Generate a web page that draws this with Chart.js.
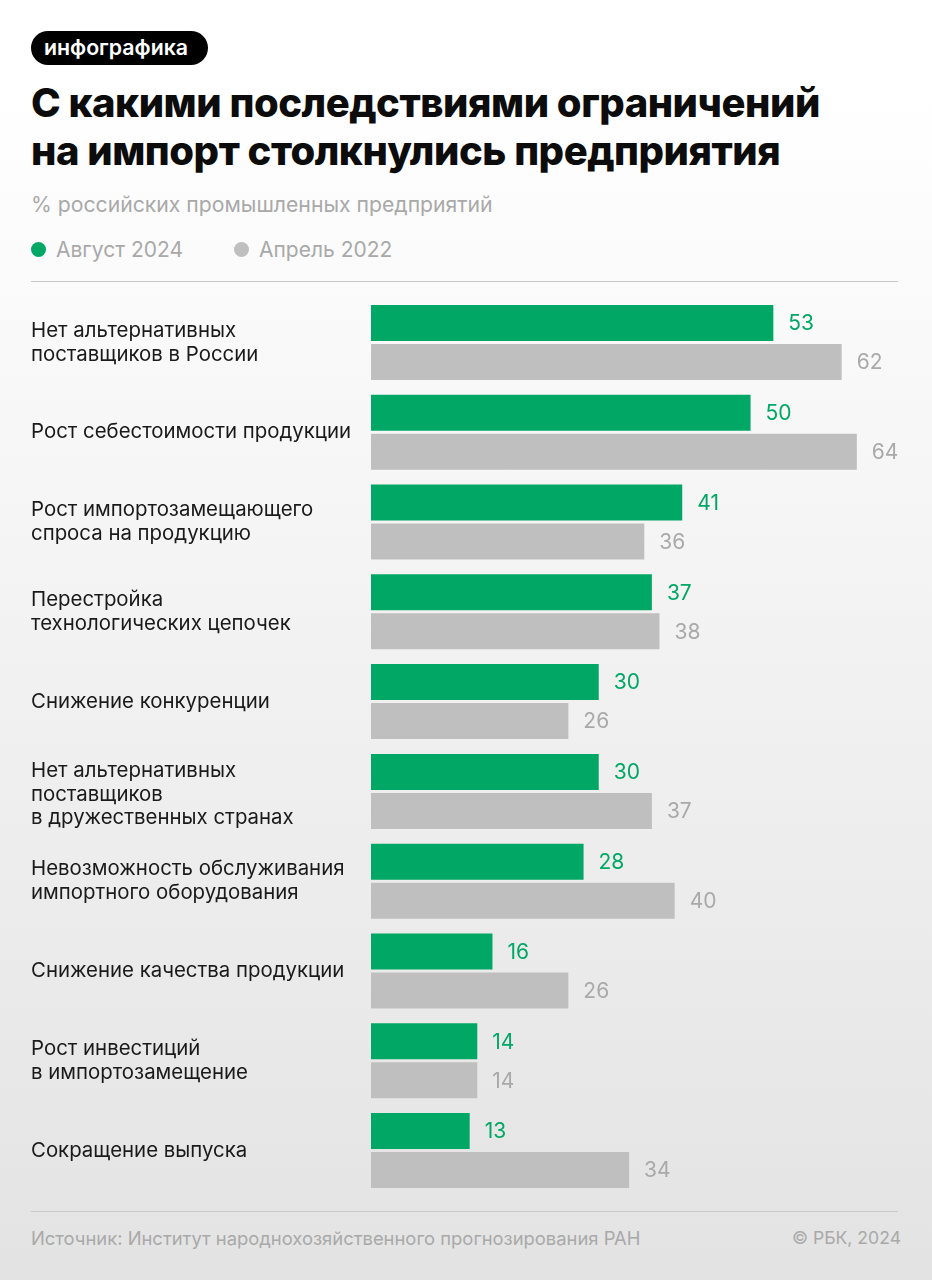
<!DOCTYPE html>
<html lang="ru">
<head>
<meta charset="utf-8">
<title>Последствия ограничений на импорт</title>
<script src="https://cdn.jsdelivr.net/npm/chart.js@4"></script>
<style>
  html, body { margin: 0; padding: 0; }
  body { width: 932px; height: 1280px; position: relative; overflow: hidden; font-family: Inter, "Noto Sans", sans-serif;
    background: linear-gradient(to bottom, #ffffff 0, #ffffff 90px, #e3e3e3 1280px); }
  .abs { position: absolute; white-space: nowrap; }
  #tag { left: 31px; top: 31px; height: 34px; line-height: 33px; padding: 0 20px 0 13px; background: #000; color: #fff; border-radius: 17px; font-size: 21.3px; font-weight: 600; }
  #title { left: 31px; top: 79px; font-size: 40px; line-height: 48px; font-weight: 800; color: #0c0c0c; letter-spacing: -0.48px; }
  #sub { left: 31px; top: 191px; font-size: 21.2px; line-height: 26px; color: #a9a9a9; }
  .leg { top: 237px; font-size: 21px; line-height: 26px; color: #a9a9a9; }
  .dot { position: absolute; top: 242px; width: 15px; height: 15px; border-radius: 50%; }
  .rule { position: absolute; left: 31px; width: 867px; height: 1px; background: #c8c8c8; }
  .foot { top: 1226px; font-size: 18.4px; line-height: 24px; color: #a9a9a9; }
  #wrap { position: absolute; left: 0; top: 290px; width: 932px; height: 914px; }
  canvas { display: block; }
</style>
</head>
<body>
<div class="abs" id="tag">инфографика</div>
<div class="abs" id="title">С какими последствиями ограничений<br>на импорт столкнулись предприятия</div>
<div class="abs" id="sub">% российских промышленных предприятий</div>
<div class="dot" style="left:31px;background:#00a765"></div>
<div class="abs leg" style="left:56px">Август 2024</div>
<div class="dot" style="left:234px;background:#bfbfbf"></div>
<div class="abs leg" style="left:259px">Апрель 2022</div>
<div class="rule" style="top:281px"></div>
<div id="wrap"><canvas id="chart" width="932" height="914"></canvas></div>
<div class="rule" style="top:1211px"></div>
<div class="abs foot" style="left:31px">Источник: Институт народнохозяйственного прогнозирования РАН</div>
<div class="abs foot" style="right:31px;font-size:17.6px">© РБК, 2024</div>
<script>
const categories = [
  ['Нет альтернативных', 'поставщиков в России'],
  'Рост себестоимости продукции',
  ['Рост импортозамещающего', 'спроса на продукцию'],
  ['Перестройка', 'технологических цепочек'],
  'Снижение конкуренции',
  ['Нет альтернативных', 'поставщиков', 'в дружественных странах'],
  ['Невозможность обслуживания', 'импортного оборудования'],
  'Снижение качества продукции',
  ['Рост инвестиций', 'в импортозамещение'],
  'Сокращение выпуска'
];
const august2024 = [53, 50, 41, 37, 30, 30, 28, 16, 14, 13];
const april2022 = [62, 64, 36, 38, 26, 37, 40, 26, 14, 34];

const GREEN = '#00a765';
const GRAY = '#bfbfbf';

// the three-line label sits a little lower than centre in the original
const nudgeLabels = {
  id: 'nudgeLabels',
  beforeDraw(chart) {
    const items = chart.scales.y.getLabelItems(chart.chartArea);
    items.forEach((item) => {
      if (item.label.length === 3) item.options.translation[1] += 3;
    });
  }
};

// value labels to the right of each bar
const valueLabels = {
  id: 'valueLabels',
  afterDatasetsDraw(chart) {
    const ctx = chart.ctx;
    ctx.save();
    ctx.font = '21px Inter, "Noto Sans", sans-serif';
    ctx.textAlign = 'left';
    ctx.textBaseline = 'middle';
    chart.data.datasets.forEach((ds, i) => {
      ctx.fillStyle = i === 0 ? GREEN : '#a9a9a9';
      chart.getDatasetMeta(i).data.forEach((bar, j) => {
        ctx.fillText(ds.data[j], bar.x + 15, bar.y + 1);
      });
    });
    ctx.restore();
  }
};

new Chart(document.getElementById('chart'), {
  type: 'bar',
  data: {
    labels: categories,
    datasets: [
      { label: 'Август 2024', data: august2024, backgroundColor: GREEN },
      { label: 'Апрель 2022', data: april2022, backgroundColor: GRAY }
    ]
  },
  options: {
    indexAxis: 'y',
    responsive: false,
    animation: false,
    categoryPercentage: 0.8688,
    barPercentage: 0.923,
    layout: { padding: { left: 31, right: 0, top: 7.6, bottom: 8.6 } },
    plugins: { legend: { display: false }, tooltip: { enabled: false } },
    scales: {
      x: {
        min: 0,
        max: 73.9,
        display: false
      },
      y: {
        afterFit(axis) {
          axis.width = 340;
          axis.paddingTop = 0;
          axis.paddingBottom = 0;
        },
        border: { display: false },
        grid: { display: false },
        ticks: {
          crossAlign: 'far',
          padding: 0,
          color: '#1a1a1a',
          font: { family: 'Inter, "Noto Sans", sans-serif', size: 20.4, lineHeight: 1.175 }
        }
      }
    }
  },
  plugins: [nudgeLabels, valueLabels]
});
</script>
</body>
</html>
